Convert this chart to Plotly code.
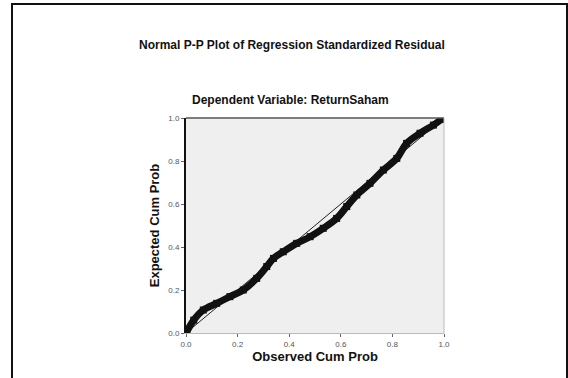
import plotly.graph_objects as go

# Data
observed_cum_prob = [0.003, 0.03, 0.067, 0.119, 0.17, 0.222, 0.274, 0.313, 0.339, 0.377,
                     0.429, 0.481, 0.532, 0.584, 0.623, 0.662, 0.713, 0.765, 0.817, 0.855,
                     0.907, 0.959, 0.991]
expected_cum_prob = [0.006, 0.06, 0.107, 0.138, 0.169, 0.2, 0.254, 0.309, 0.347, 0.378,
                     0.417, 0.448, 0.487, 0.533, 0.588, 0.642, 0.696, 0.758, 0.812, 0.882,
                     0.929, 0.967, 0.994]
diag = [0.0, 1.0]
tick_vals = [0.0, 0.2, 0.4, 0.6, 0.8, 1.0]
tick_text = ["0.0", "0.2", "0.4", "0.6", "0.8", "1.0"]

title_text = "Normal P-P Plot of Regression Standardized Residual"
subtitle_text = "Dependent Variable: ReturnSaham"
x_title = "Observed Cum Prob"
y_title = "Expected Cum Prob"

FONT = "Liberation Sans, Arial, sans-serif"

fig = go.Figure()
fig.add_trace(go.Scatter(x=diag, y=diag, mode="lines",
                         line=dict(color="#222222", width=1), hoverinfo="skip"))
fig.add_trace(go.Scatter(x=observed_cum_prob, y=expected_cum_prob, mode="lines+markers",
                         line=dict(color="#111111", width=7, shape="spline"),
                         marker=dict(color="#111111", size=7, symbol="square"),
                         hoverinfo="skip"))

fig.update_layout(
    width=568, height=378,
    margin=dict(l=186, r=124, t=118, b=45),
    paper_bgcolor="white",
    plot_bgcolor="#efefef",
    showlegend=False,
    font=dict(family=FONT, color="#111111"),
    xaxis=dict(range=[0, 1], tickvals=tick_vals, ticktext=tick_text,
               showgrid=False, zeroline=False, showline=True, linecolor="#bbbbbb",
               linewidth=1, ticks="outside", ticklen=3, tickcolor="#666666",
               tickfont=dict(size=8, color="#555555"),
               title=dict(text="<b>" + x_title + "</b>", font=dict(size=13), standoff=2)),
    yaxis=dict(range=[0, 1], tickvals=tick_vals, ticktext=tick_text,
               showgrid=False, zeroline=False, showline=True, linecolor="#111111",
               linewidth=2, ticks="outside", ticklen=3, tickcolor="#666666",
               tickfont=dict(size=8, color="#555555"),
               title=dict(text="<b>" + y_title + "</b>", font=dict(size=13), standoff=6)),
    annotations=[
        dict(text="<b>" + title_text + "</b>", x=(292 - 186) / 258, y=(333 - 45) / 215,
             xref="paper", yref="paper", showarrow=False, font=dict(size=12),
             xanchor="center", yanchor="middle"),
        dict(text="<b>" + subtitle_text + "</b>", x=(290 - 186) / 258, y=(333 - 100) / 215,
             xref="paper", yref="paper", showarrow=False, font=dict(size=12),
             xanchor="center", yanchor="middle"),
    ],
    shapes=[
        # outer chart frame
        dict(type="rect", xref="paper", yref="paper",
             x0=(12 - 186) / 258, x1=(567 - 186) / 258,
             y0=(333 - 390) / 215, y1=(333 - 4) / 215,
             line=dict(color="#111111", width=2), layer="below"),
        # top border of plot area
        dict(type="line", xref="paper", yref="paper", x0=0, x1=1, y0=1, y1=1,
             line=dict(color="#555555", width=1.5)),
        # right border of plot area
        dict(type="line", xref="paper", yref="paper", x0=1, x1=1, y0=0, y1=1,
             line=dict(color="#bbbbbb", width=1)),
    ],
)

fig.write_html("out.html", config={"displayModeBar": False},
               post_script="document.body.style.margin='0';")
